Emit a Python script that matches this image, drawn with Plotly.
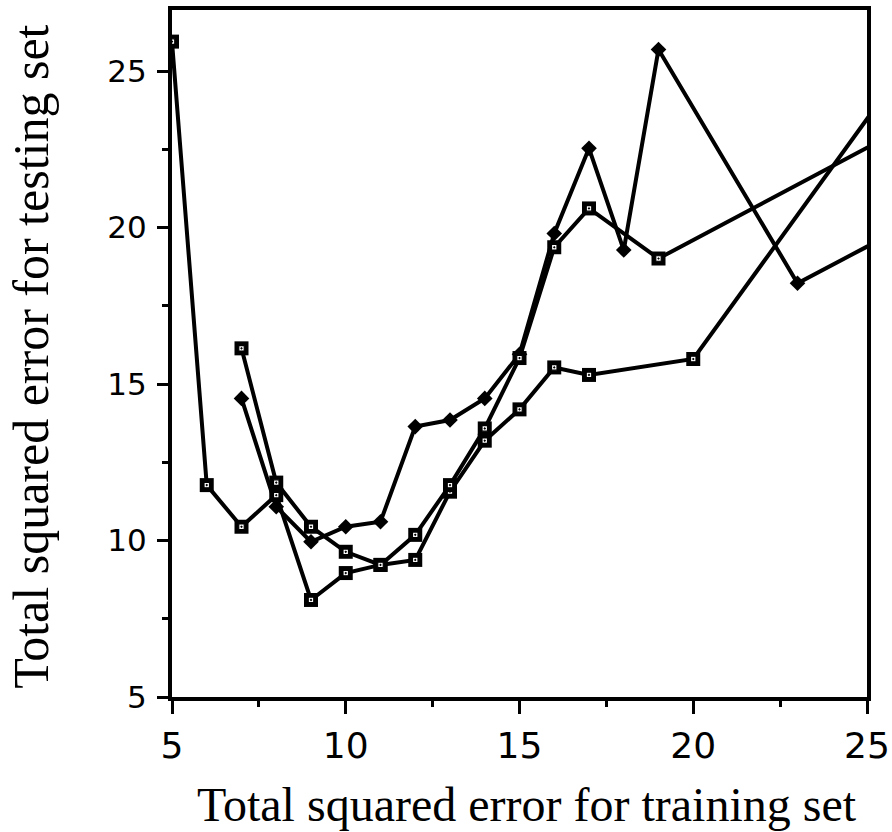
import plotly.graph_objects as go

# Series A (open squares) - starts at training error 5
a_x = [5, 6, 7, 8, 9, 10, 11, 12, 13, 14, 15, 16, 17, 20, 26]
a_y = [25.94, 11.77, 10.44, 11.45, 8.1, 8.96, 9.22, 9.38, 11.56, 13.19, 14.19, 15.53, 15.29, 15.8, 25.0]

# Series B (open squares) - starts at training error 7
b_x = [7, 8, 9, 10, 11, 12, 13, 14, 15, 16, 17, 19, 27]
b_y = [16.14, 11.85, 10.44, 9.64, 9.22, 10.18, 11.77, 13.58, 15.83, 19.37, 20.61, 19.01, 23.73]

# Series C (filled diamonds)
c_x = [7, 8, 9, 10, 11, 12, 13, 14, 15, 16, 17, 18, 19, 23, 27]
c_y = [14.54, 11.08, 9.96, 10.44, 10.6, 13.64, 13.85, 14.54, 15.95, 19.81, 22.53, 19.28, 25.69, 18.22, 20.56]

x_ticks = [5, 10, 15, 20, 25]
y_ticks = [5, 10, 15, 20, 25]

x_title = "Total squared error for training set"
y_title = "Total squared error for testing set"

LW = 4
fig = go.Figure()

fig.add_trace(go.Scatter(x=c_x, y=c_y, mode="lines+markers",
                         line=dict(color="black", width=LW),
                         marker=dict(symbol="diamond", size=12, color="black"),
                         showlegend=False))

for xs, ys in [(a_x, a_y), (b_x, b_y)]:
    fig.add_trace(go.Scatter(x=xs, y=ys, mode="lines+markers",
                             line=dict(color="black", width=LW),
                             marker=dict(symbol="square", size=14, color="black"),
                             showlegend=False))
    fig.add_trace(go.Scatter(x=xs, y=ys, mode="markers",
                             marker=dict(symbol="square-dot", size=5.5, color="white",
                                         line=dict(color="black", width=1.2)),
                             showlegend=False))

axis_common = dict(showline=True, linecolor="black", linewidth=4, mirror=True,
                   showgrid=False, zeroline=False, ticks="outside", automargin=False,
                   tickcolor="black", tickwidth=3, ticklabeloverflow="allow")

fig.update_xaxes(range=[5, 25], tickvals=x_ticks, ticktext=[str(v) for v in x_ticks],
                 ticklen=13, ticklabelstandoff=1,
                 tickfont=dict(family="DejaVu Sans", size=36, color="black"),
                 minor=dict(ticks="outside", ticklen=6, tickwidth=3, tickcolor="black",
                            dtick=2.5, tick0=5, showgrid=False),
                 **axis_common)
fig.update_yaxes(range=[5, 26.95], tickvals=y_ticks, ticktext=[str(v) for v in y_ticks],
                 ticklen=11, ticklabelstandoff=4,
                 tickfont=dict(family="DejaVu Sans", size=31, color="black"),
                 minor=dict(ticks="outside", ticklen=6, tickwidth=3, tickcolor="black",
                            dtick=2.5, tick0=5, showgrid=False),
                 **axis_common)

fig.add_annotation(text=x_title, xref="paper", yref="paper", x=0.511, y=-0.157,
                   xanchor="center", yanchor="middle", showarrow=False,
                   font=dict(family="Liberation Serif", size=48, color="black"))
fig.add_annotation(text=y_title, xref="paper", yref="paper", x=-0.203, y=0.495,
                   xanchor="center", yanchor="middle", showarrow=False, textangle=-90,
                   font=dict(family="Liberation Serif", size=50, color="black"))

fig.update_layout(width=892, height=832, margin=dict(l=172, r=25, t=10, b=135, autoexpand=False),
                  plot_bgcolor="white", paper_bgcolor="white")

# remove the default page margin so the figure fills the window exactly
post = ("document.body.style.margin='0';"
        "document.body.style.overflow='hidden';")

fig.write_html("out.html",
               config={"displayModeBar": False, "responsive": False},
               post_script=post)
